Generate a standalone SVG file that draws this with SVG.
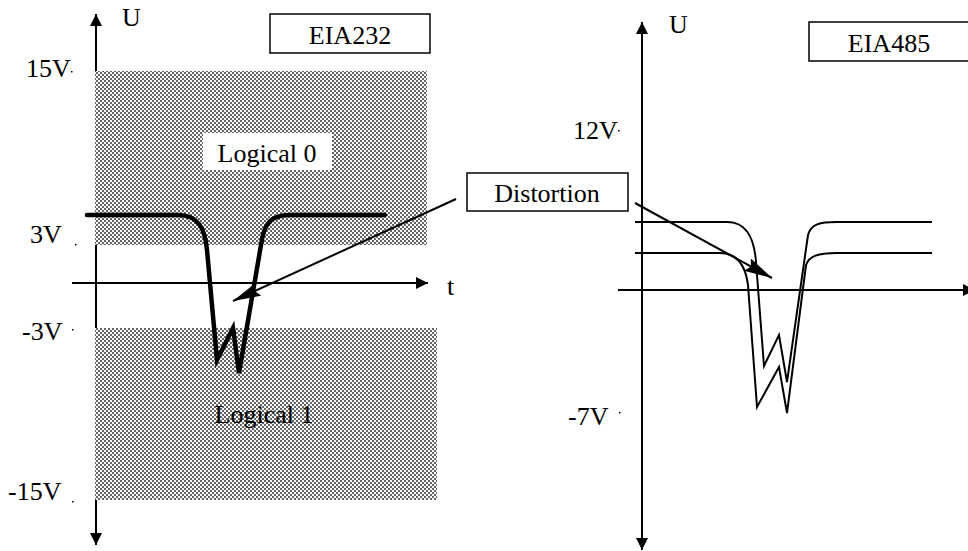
<svg xmlns="http://www.w3.org/2000/svg" width="968" height="551" viewBox="0 0 968 551">
<style>
text{font-family:"Liberation Serif","Times New Roman",serif;font-size:26px;fill:#000}
.ax{stroke:#000;stroke-width:2;fill:none}
.box{fill:#fff;stroke:#000;stroke-width:1.5}
.sig{fill:none;stroke:#000;stroke-width:4.5;stroke-linejoin:miter;stroke-linecap:round}
.sig2{fill:none;stroke:#000;stroke-width:2;stroke-linejoin:miter}
.ptr{stroke:#000;stroke-width:2;fill:none}
.dot{fill:#000}
</style>
<defs>
<pattern id="dots" width="4" height="4" patternUnits="userSpaceOnUse">
<rect width="4" height="4" fill="#fafafa"/>
<circle cx="1" cy="1" r="1" fill="#333"/>
<circle cx="3" cy="3" r="1" fill="#333"/>
</pattern>
<marker id="axArrow" viewBox="0 0 12 12" markerWidth="12" markerHeight="12" refX="12" refY="6" orient="auto-start-reverse" markerUnits="userSpaceOnUse">
<path d="M0,0 L12,6 L0,12 z" fill="#000"/>
</marker>
<marker id="ptrArrow" viewBox="0 0 28 14" markerWidth="28" markerHeight="14" refX="28" refY="7" orient="auto" markerUnits="userSpaceOnUse">
<path d="M0,0 L28,7 L0,14 L4,7 z" fill="#000"/>
</marker>
</defs>

<g id="eia232-chart">
<line class="ax" x1="96" y1="545" x2="96" y2="14" marker-start="url(#axArrow)" marker-end="url(#axArrow)"/>
<line class="ax" x1="72" y1="283" x2="428" y2="283" marker-end="url(#axArrow)"/>
<rect id="zone-logical0" x="95" y="71" width="332" height="174" fill="url(#dots)"/>
<rect id="zone-logical1" x="95" y="328" width="342" height="172" fill="url(#dots)"/>
<text x="122" y="26" font-size="22">U</text>
<text x="447" y="295">t</text>
<text x="26" y="77">15V</text><rect class="dot" x="71" y="71" width="1.5" height="1.5"/>
<text x="30" y="243">3V</text><rect class="dot" x="75" y="244" width="1.5" height="1.5"/>
<text x="22" y="340">-3V</text><rect class="dot" x="72" y="329" width="1.5" height="1.5"/>
<text x="8" y="500">-15V</text><rect class="dot" x="72" y="501" width="1.5" height="1.5"/>
<g id="label-logical0">
<rect x="203" y="133" width="129" height="37" fill="#fff"/>
<text x="267" y="162" text-anchor="middle">Logical 0</text>
</g>
<text id="label-logical1" x="264" y="423" text-anchor="middle">Logical 1</text>
<path id="signal232" class="sig" d="M87 215 L178 215 C198 215 205 228 207 250 L217 360 L233 328 L239 373 L261 245 C264 222 272 215 290 215 L385 215"/>
</g>

<g id="eia232-title">
<rect class="box" x="270" y="14" width="160" height="39"/>
<text x="350" y="44" text-anchor="middle">EIA232</text>
</g>

<g id="eia485-chart">
<line class="ax" x1="642" y1="550" x2="642" y2="22" marker-start="url(#axArrow)" marker-end="url(#axArrow)"/>
<line class="ax" x1="618" y1="290" x2="975" y2="290" marker-end="url(#axArrow)"/>
<text x="669" y="33" font-size="22">U</text>
<text x="573" y="139">12V</text><rect class="dot" x="618" y="130" width="1.5" height="1.5"/>
<text x="568" y="425">-7V</text><rect class="dot" x="619" y="412" width="1.5" height="1.5"/>
<path id="signal485-a" class="sig2" d="M635 222 L727 222 C745 222 754 235 756 262 L764 366 L779 335 L787 382 L808 235 C811 224 820 222 837 222 L932 222"/>
<path id="signal485-b" class="sig2" d="M635 253 L720 253 C735 253 745 262 748 285 L757 407 L779 367 L787 413 L806 265 C809 256 818 253 837 253 L932 253"/>
</g>

<g id="eia485-title">
<rect class="box" x="809" y="22" width="170" height="39"/>
<text x="889" y="52" text-anchor="middle">EIA485</text>
</g>

<g id="distortion">
<rect class="box" x="467" y="173" width="161" height="38"/>
<text x="547" y="202" text-anchor="middle">Distortion</text>
</g>

<g id="connectors">
<line class="ptr" x1="456" y1="199" x2="233" y2="301" marker-end="url(#ptrArrow)"/>
<line class="ptr" x1="635" y1="203" x2="772" y2="278" marker-end="url(#ptrArrow)"/>
</g>
</svg>
